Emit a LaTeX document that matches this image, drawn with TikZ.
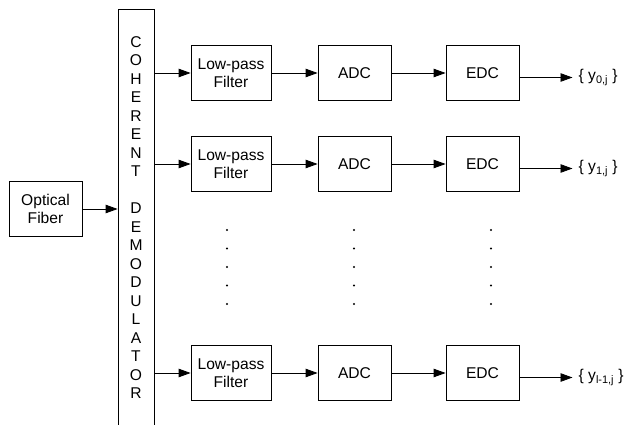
\documentclass[tikz,border=0pt]{standalone}
\usepackage{fontspec}
\setmainfont{Liberation Sans}
\usetikzlibrary{arrows.meta}
\begin{document}
\begin{tikzpicture}[
    x=1pt, y=-1pt,
    every node/.style={font=\fontsize{15.6}{18.5}\selectfont, inner sep=0pt},
    block/.style={draw, line width=0.8pt, minimum height=54.5pt, align=center},
    wide block/.style={block, minimum width=80pt},
    narrow block/.style={block, minimum width=73pt},
    link/.style={draw, line width=0.8pt, -{Triangle[length=12pt, width=8.5pt]}},
    result/.style={anchor=west, inner xsep=6pt}
    ]
    \clip (0,0) rectangle (631,425);
    \node[narrow block] (fiber) at (45.5,209) {Optical\\Fiber};
    \node[draw, line width=0.8pt, minimum width=36pt, minimum height=416pt, align=center] (demod) at (136,217.5)
      {C\\O\\H\\E\\R\\E\\N\\T\\\mbox{}\\D\\E\\M\\O\\D\\U\\L\\A\\T\\O\\R};
    \draw[link] (fiber) -- (fiber -| demod.west);
    \foreach \i/\y/\sub in {0/73/0, 1/164/1, 2/373/l-1} {
      \node[wide block] (lpf\i) at (231,\y) {Low-pass\\Filter};
      \node[narrow block] (adc\i) at (354.5,\y) {ADC};
      \node[narrow block] (edc\i) at (482.5,\y) {EDC};
      \node[result] (out\i) at (572.5,\y+4.5) {\{ y\textsubscript{\sub,j} \}};
      \draw[link] (demod.east |- lpf\i) -- (lpf\i);
      \draw[link] (lpf\i) -- (adc\i);
      \draw[link] (adc\i) -- (edc\i);
      \draw[link] (edc\i.east |- out\i) -- (out\i);
    }
    % vertical dots between the rows
    \foreach \x in {227,354,491}
      \foreach \y in {230,248.5,267,285.5,304}
        \fill (\x,\y) circle (1.2pt);
\end{tikzpicture}
\end{document}
